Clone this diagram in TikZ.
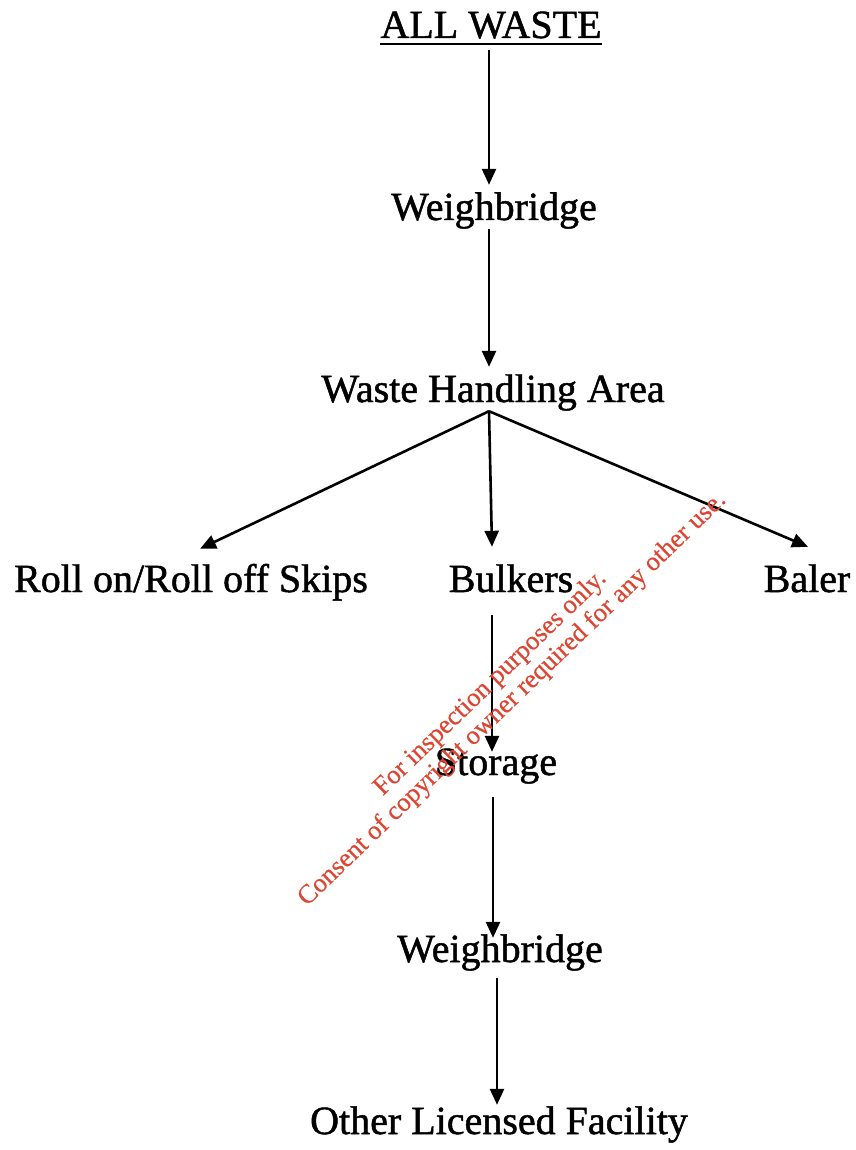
\documentclass[tikz,border=0pt]{standalone}
\usepackage{fontspec}
\setmainfont{Liberation Serif}
\newfontfamily\scanfont[FakeBold=1.2]{Liberation Serif}
\newfontfamily\wmfont[FakeBold=0.4]{Liberation Serif}
\usetikzlibrary{arrows.meta}
\definecolor{wmred}{RGB}{220,70,50}
\begin{document}
\begin{tikzpicture}[x=1pt,y=-1pt,
  lbl/.style={anchor=base,inner sep=0pt,text height=28pt,text depth=9pt,font=\scanfont\fontsize{40}{48}\selectfont},
  arr/.style={line width=2.6pt,-{Triangle[length=16pt,width=14pt]}},
  wm/.style={anchor=base,inner sep=0pt,rotate=44,text=wmred,font=\wmfont\fontsize{26.5}{32}\selectfont}]
\useasboundingbox (0,0) rectangle (855,1150);
\node[lbl] (aw) at (491,38) {ALL WASTE};
\draw[line width=2.2pt] ([yshift=-6pt]aw.base west) -- ([yshift=-6pt]aw.base east);
\node[lbl] (wb1) at (494,220) {Weighbridge};
\node[lbl] (wha) at (493,402) {Waste Handling Area};
\node[lbl] (roll) at (191,592) {Roll on/Roll off Skips};
\node[lbl] (bulk) at (511,592) {Bulkers};
\node[lbl] (baler) at (807,592) {Baler};
\node[lbl] (stor) at (496,775) {Storage};
\node[lbl] (wb2) at (500,962) {Weighbridge};
\node[lbl] (other) at (499,1134) {Other Licensed Facility};
% arrows
\draw[arr,shorten <=3pt,shorten >=7pt] ([xshift=-2pt]aw.south) -- ([xshift=-2pt]aw.south |- wb1.north);
\draw[arr,shorten >=7pt] ([xshift=-5pt]wb1.south) -- ([xshift=-5pt]wb1.south |- wha.north);
\coordinate (split) at ([xshift=-4pt]wha.south);
\draw[arr] (split) -- ([xshift=9pt,yshift=15pt]roll.north);
\draw[arr] (split) -- ([xshift=-19pt,yshift=17pt]bulk.north);
\draw[arr] (split) -- ([xshift=1pt,yshift=17pt]baler.north);
\draw[arr,shorten <=14pt,shorten >=-5pt] ([xshift=-19pt]bulk.south) -- ([xshift=-19pt]bulk.south |- stor.north);
\draw[arr,shorten <=13pt,shorten >=-4pt] ([xshift=-3pt]stor.south) -- ([xshift=-3pt]stor.south |- wb2.north);
\draw[arr,shorten <=7pt,shorten >=1pt] ([xshift=-3pt]wb2.south) -- ([xshift=-3pt]wb2.south |- other.north);
% watermark
\node[wm] (wm1) at (495,688) {For inspection purposes only.};
\node[wm] (wm2) at (517,704) {Consent of copyright owner required for any other use.};
\end{tikzpicture}
\end{document}
